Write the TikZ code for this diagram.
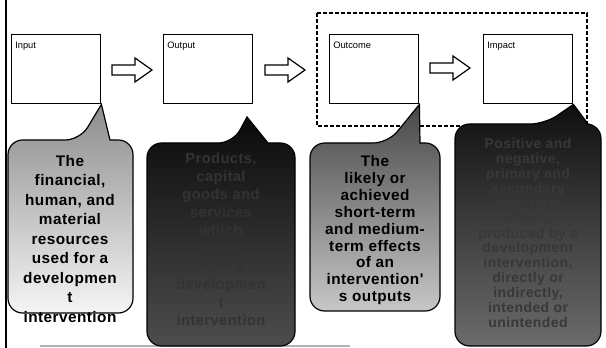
\documentclass[tikz,border=0pt]{standalone}
\usepackage{fontspec}
\setmainfont{Liberation Sans}
\newfontfamily\callfont[LetterSpace=3]{Liberation Sans}
\begin{document}
\begin{tikzpicture}[x=0.75pt,y=-0.75pt,
  stage/.style={draw=black, line width=0.8pt, fill=white, minimum width=67pt, minimum height=52pt, inner sep=0pt, anchor=north west},
  lbl/.style={font=\fontsize{7}{8}\selectfont, inner sep=0pt, anchor=north west},
  blockarrow/.style={draw=black, line width=0.9pt, fill=white, line join=miter},
  callout/.style={draw=black, line width=0.9pt},
  ctext/.style={align=center, inner sep=0pt, anchor=north, font=\callfont\bfseries\fontsize{11.5}{14.6}\selectfont},
  grouping/.style={draw=black, line width=0.8pt, dash pattern=on 3pt off 1.5pt}
]
\useasboundingbox[fill=white] (0,0) rectangle (606,348);

% group rectangle
\draw[grouping] (317,13) rectangle (587,126);
% bottom grey rule
\draw[black!30, line width=1.2pt] (40,346) -- (350,346);

% stage boxes
\node[stage] (in) at (11,34) {};
\node[stage] (out) at (163,34) {};
\node[stage] (oc) at (329,34) {};
\node[stage] (im) at (483,34) {};
\node[lbl] (inl) at ([xshift=3pt,yshift=-6pt]in.north west) {Input};
\node[lbl] (outl) at ([xshift=3pt,yshift=-6pt]out.north west) {Output};
\node[lbl] (ocl) at ([xshift=3pt,yshift=-6pt]oc.north west) {Outcome};
\node[lbl] (iml) at ([xshift=3pt,yshift=-6pt]im.north west) {Impact};

% block arrows
\coordinate (a1) at (112,70);
\coordinate (a2) at (265,70);
\coordinate (a3) at (430,68);
\foreach \a in {a1,a2,a3}
  \draw[blockarrow] (\a) ++(0,-5) -- ++(23,0) -- ++(0,-7) -- ++(17,12) -- ++(-17,12) -- ++(0,-7) -- ++(-23,0) -- cycle;

% callouts
\coordinate (outtip) at (247,117);
\draw[callout, top color=black!45, bottom color=black!4]
  (8,230) [rounded corners=11pt] -- (8,140) -- (80,140) [sharp corners] -- (in.south east) -- (110,140) [rounded corners=11pt] -- (133,140) -- (133,313) -- (8,313) -- cycle;
\draw[callout, top color=black!96, bottom color=black!70]
  (147,240) [rounded corners=11pt] -- (147,143) -- (233,143) [sharp corners] -- (outtip) -- (268,143) [rounded corners=11pt] -- (295,143) -- (295,346) -- (147,346) -- cycle;
\draw[callout, top color=black!72, bottom color=black!22]
  (310,230) [rounded corners=11pt] -- (310,143) -- (388,143) [sharp corners] -- (oc.south east) -- (420,143) [rounded corners=11pt] -- (440,143) -- (440,311) -- (310,311) -- cycle;
\draw[callout, top color=black!94, bottom color=black!58]
  (455,240) [rounded corners=11pt] -- (455,124) -- (545,124) [sharp corners] -- (im.south east) -- (588,124) [rounded corners=11pt] -- (601,124) -- (601,346) -- (455,346) -- cycle;

% callout texts
\node[ctext] (intxt) at (70,155) {The\\financial,\\human, and\\material\\resources\\used for a\\developmen\\t\\intervention};
\node[ctext, text=black!80, font=\callfont\bfseries\fontsize{11}{13.5}\selectfont] (outtxt) at (221,153) {Products,\\capital\\goods and\\services\\which\\result\\from a\\developmen\\t\\intervention};
\node[ctext, font=\callfont\bfseries\fontsize{11.5}{12.7}\selectfont] (octxt) at (375,155) {The\\likely or\\achieved\\short-term\\and medium-\\term effects\\of an\\intervention'\\s outputs};
\node[ctext, text=black!78, font=\callfont\bfseries\fontsize{10.5}{11.2}\selectfont] (imtxt) at (528,138) {Positive and\\negative,\\primary and\\secondary\\long-term\\effects\\produced by a\\development\\intervention,\\directly or\\indirectly,\\intended or\\unintended};

% left rule
\draw[black, line width=2pt] (6,0) -- (6,348);
\end{tikzpicture}
\end{document}
